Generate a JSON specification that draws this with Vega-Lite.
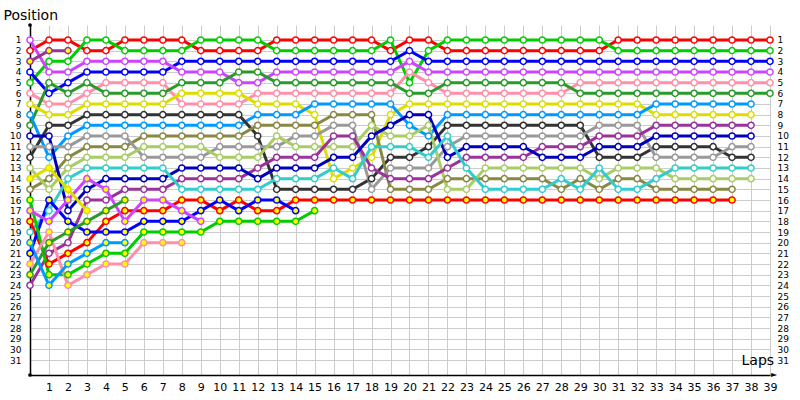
{
"$schema": "https://vega.github.io/schema/vega-lite/v6.json",
"width": 740, "height": 350,
"autosize": {"type": "none"},
"padding": {"left": 30, "top": 25, "right": 30, "bottom": 25},
"background": "white",
"config": {"view": {"stroke": null}, "font": "DejaVu Sans"},
"data": {"values": [
{"d":"R","l":0,"p":2},{"d":"R","l":1,"p":1},{"d":"R","l":2,"p":1},{"d":"R","l":3,"p":2},{"d":"R","l":4,"p":2},{"d":"R","l":5,"p":1},{"d":"R","l":6,"p":1},{"d":"R","l":7,"p":1},{"d":"R","l":8,"p":1},{"d":"R","l":9,"p":2},{"d":"R","l":10,"p":2},{"d":"R","l":11,"p":2},{"d":"R","l":12,"p":2},{"d":"R","l":13,"p":1},{"d":"R","l":14,"p":1},{"d":"R","l":15,"p":1},{"d":"R","l":16,"p":1},{"d":"R","l":17,"p":1},{"d":"R","l":18,"p":1},{"d":"R","l":19,"p":2},{"d":"R","l":20,"p":1},{"d":"R","l":21,"p":1},{"d":"R","l":22,"p":2},{"d":"R","l":23,"p":2},{"d":"R","l":24,"p":2},{"d":"R","l":25,"p":2},{"d":"R","l":26,"p":2},{"d":"R","l":27,"p":2},{"d":"R","l":28,"p":2},{"d":"R","l":29,"p":2},{"d":"R","l":30,"p":2},{"d":"R","l":31,"p":1},{"d":"R","l":32,"p":1},{"d":"R","l":33,"p":1},{"d":"R","l":34,"p":1},{"d":"R","l":35,"p":1},{"d":"R","l":36,"p":1},{"d":"R","l":37,"p":1},{"d":"R","l":38,"p":1},{"d":"R","l":39,"p":1},
{"d":"G","l":0,"p":5},{"d":"G","l":1,"p":3},{"d":"G","l":2,"p":3},{"d":"G","l":3,"p":1},{"d":"G","l":4,"p":1},{"d":"G","l":5,"p":2},{"d":"G","l":6,"p":2},{"d":"G","l":7,"p":2},{"d":"G","l":8,"p":2},{"d":"G","l":9,"p":1},{"d":"G","l":10,"p":1},{"d":"G","l":11,"p":1},{"d":"G","l":12,"p":1},{"d":"G","l":13,"p":2},{"d":"G","l":14,"p":2},{"d":"G","l":15,"p":2},{"d":"G","l":16,"p":2},{"d":"G","l":17,"p":2},{"d":"G","l":18,"p":2},{"d":"G","l":19,"p":1},{"d":"G","l":20,"p":5},{"d":"G","l":21,"p":2},{"d":"G","l":22,"p":1},{"d":"G","l":23,"p":1},{"d":"G","l":24,"p":1},{"d":"G","l":25,"p":1},{"d":"G","l":26,"p":1},{"d":"G","l":27,"p":1},{"d":"G","l":28,"p":1},{"d":"G","l":29,"p":1},{"d":"G","l":30,"p":1},{"d":"G","l":31,"p":2},{"d":"G","l":32,"p":2},{"d":"G","l":33,"p":2},{"d":"G","l":34,"p":2},{"d":"G","l":35,"p":2},{"d":"G","l":36,"p":2},{"d":"G","l":37,"p":2},{"d":"G","l":38,"p":2},{"d":"G","l":39,"p":2},
{"d":"B","l":0,"p":4},{"d":"B","l":1,"p":6},{"d":"B","l":2,"p":5},{"d":"B","l":3,"p":4},{"d":"B","l":4,"p":4},{"d":"B","l":5,"p":4},{"d":"B","l":6,"p":4},{"d":"B","l":7,"p":4},{"d":"B","l":8,"p":3},{"d":"B","l":9,"p":3},{"d":"B","l":10,"p":3},{"d":"B","l":11,"p":3},{"d":"B","l":12,"p":3},{"d":"B","l":13,"p":3},{"d":"B","l":14,"p":3},{"d":"B","l":15,"p":3},{"d":"B","l":16,"p":3},{"d":"B","l":17,"p":3},{"d":"B","l":18,"p":3},{"d":"B","l":19,"p":3},{"d":"B","l":20,"p":2},{"d":"B","l":21,"p":3},{"d":"B","l":22,"p":3},{"d":"B","l":23,"p":3},{"d":"B","l":24,"p":3},{"d":"B","l":25,"p":3},{"d":"B","l":26,"p":3},{"d":"B","l":27,"p":3},{"d":"B","l":28,"p":3},{"d":"B","l":29,"p":3},{"d":"B","l":30,"p":3},{"d":"B","l":31,"p":3},{"d":"B","l":32,"p":3},{"d":"B","l":33,"p":3},{"d":"B","l":34,"p":3},{"d":"B","l":35,"p":3},{"d":"B","l":36,"p":3},{"d":"B","l":37,"p":3},{"d":"B","l":38,"p":3},{"d":"B","l":39,"p":3},
{"d":"V","l":0,"p":1},{"d":"V","l":1,"p":4},{"d":"V","l":2,"p":4},{"d":"V","l":3,"p":3},{"d":"V","l":4,"p":3},{"d":"V","l":5,"p":3},{"d":"V","l":6,"p":3},{"d":"V","l":7,"p":3},{"d":"V","l":8,"p":4},{"d":"V","l":9,"p":4},{"d":"V","l":10,"p":4},{"d":"V","l":11,"p":5},{"d":"V","l":12,"p":5},{"d":"V","l":13,"p":4},{"d":"V","l":14,"p":4},{"d":"V","l":15,"p":4},{"d":"V","l":16,"p":4},{"d":"V","l":17,"p":4},{"d":"V","l":18,"p":4},{"d":"V","l":19,"p":4},{"d":"V","l":20,"p":3},{"d":"V","l":21,"p":4},{"d":"V","l":22,"p":4},{"d":"V","l":23,"p":4},{"d":"V","l":24,"p":4},{"d":"V","l":25,"p":4},{"d":"V","l":26,"p":4},{"d":"V","l":27,"p":4},{"d":"V","l":28,"p":4},{"d":"V","l":29,"p":4},{"d":"V","l":30,"p":4},{"d":"V","l":31,"p":4},{"d":"V","l":32,"p":4},{"d":"V","l":33,"p":4},{"d":"V","l":34,"p":4},{"d":"V","l":35,"p":4},{"d":"V","l":36,"p":4},{"d":"V","l":37,"p":4},{"d":"V","l":38,"p":4},{"d":"V","l":39,"p":4},
{"d":"P","l":0,"p":6},{"d":"P","l":1,"p":7},{"d":"P","l":2,"p":7},{"d":"P","l":3,"p":6},{"d":"P","l":4,"p":5},{"d":"P","l":5,"p":5},{"d":"P","l":6,"p":5},{"d":"P","l":7,"p":5},{"d":"P","l":8,"p":7},{"d":"P","l":9,"p":7},{"d":"P","l":10,"p":7},{"d":"P","l":11,"p":7},{"d":"P","l":12,"p":6},{"d":"P","l":13,"p":6},{"d":"P","l":14,"p":6},{"d":"P","l":15,"p":6},{"d":"P","l":16,"p":6},{"d":"P","l":17,"p":6},{"d":"P","l":18,"p":6},{"d":"P","l":19,"p":6},{"d":"P","l":20,"p":4},{"d":"P","l":21,"p":5},{"d":"P","l":22,"p":6},{"d":"P","l":23,"p":6},{"d":"P","l":24,"p":6},{"d":"P","l":25,"p":6},{"d":"P","l":26,"p":6},{"d":"P","l":27,"p":6},{"d":"P","l":28,"p":6},{"d":"P","l":29,"p":5},{"d":"P","l":30,"p":5},{"d":"P","l":31,"p":5},{"d":"P","l":32,"p":5},{"d":"P","l":33,"p":5},{"d":"P","l":34,"p":5},{"d":"P","l":35,"p":5},{"d":"P","l":36,"p":5},{"d":"P","l":37,"p":5},{"d":"P","l":38,"p":5},{"d":"P","l":39,"p":5},
{"d":"DG","l":0,"p":9},{"d":"DG","l":1,"p":5},{"d":"DG","l":2,"p":6},{"d":"DG","l":3,"p":5},{"d":"DG","l":4,"p":6},{"d":"DG","l":5,"p":6},{"d":"DG","l":6,"p":6},{"d":"DG","l":7,"p":6},{"d":"DG","l":8,"p":5},{"d":"DG","l":9,"p":5},{"d":"DG","l":10,"p":5},{"d":"DG","l":11,"p":4},{"d":"DG","l":12,"p":4},{"d":"DG","l":13,"p":5},{"d":"DG","l":14,"p":5},{"d":"DG","l":15,"p":5},{"d":"DG","l":16,"p":5},{"d":"DG","l":17,"p":5},{"d":"DG","l":18,"p":5},{"d":"DG","l":19,"p":5},{"d":"DG","l":20,"p":6},{"d":"DG","l":21,"p":6},{"d":"DG","l":22,"p":5},{"d":"DG","l":23,"p":5},{"d":"DG","l":24,"p":5},{"d":"DG","l":25,"p":5},{"d":"DG","l":26,"p":5},{"d":"DG","l":27,"p":5},{"d":"DG","l":28,"p":5},{"d":"DG","l":29,"p":6},{"d":"DG","l":30,"p":6},{"d":"DG","l":31,"p":6},{"d":"DG","l":32,"p":6},{"d":"DG","l":33,"p":6},{"d":"DG","l":34,"p":6},{"d":"DG","l":35,"p":6},{"d":"DG","l":36,"p":6},{"d":"DG","l":37,"p":6},{"d":"DG","l":38,"p":6},{"d":"DG","l":39,"p":6},
{"d":"Y","l":0,"p":7},{"d":"Y","l":1,"p":8},{"d":"Y","l":2,"p":8},{"d":"Y","l":3,"p":7},{"d":"Y","l":4,"p":7},{"d":"Y","l":5,"p":7},{"d":"Y","l":6,"p":7},{"d":"Y","l":7,"p":7},{"d":"Y","l":8,"p":6},{"d":"Y","l":9,"p":6},{"d":"Y","l":10,"p":6},{"d":"Y","l":11,"p":6},{"d":"Y","l":12,"p":7},{"d":"Y","l":13,"p":7},{"d":"Y","l":14,"p":7},{"d":"Y","l":15,"p":8},{"d":"Y","l":16,"p":14},{"d":"Y","l":17,"p":13},{"d":"Y","l":18,"p":12},{"d":"Y","l":19,"p":8},{"d":"Y","l":20,"p":7},{"d":"Y","l":21,"p":7},{"d":"Y","l":22,"p":7},{"d":"Y","l":23,"p":7},{"d":"Y","l":24,"p":7},{"d":"Y","l":25,"p":7},{"d":"Y","l":26,"p":7},{"d":"Y","l":27,"p":7},{"d":"Y","l":28,"p":7},{"d":"Y","l":29,"p":7},{"d":"Y","l":30,"p":7},{"d":"Y","l":31,"p":7},{"d":"Y","l":32,"p":7},{"d":"Y","l":33,"p":8},{"d":"Y","l":34,"p":8},{"d":"Y","l":35,"p":8},{"d":"Y","l":36,"p":8},{"d":"Y","l":37,"p":8},{"d":"Y","l":38,"p":8},
{"d":"A","l":0,"p":8},{"d":"A","l":1,"p":12},{"d":"A","l":2,"p":10},{"d":"A","l":3,"p":9},{"d":"A","l":4,"p":9},{"d":"A","l":5,"p":9},{"d":"A","l":6,"p":9},{"d":"A","l":7,"p":9},{"d":"A","l":8,"p":9},{"d":"A","l":9,"p":9},{"d":"A","l":10,"p":9},{"d":"A","l":11,"p":9},{"d":"A","l":12,"p":8},{"d":"A","l":13,"p":8},{"d":"A","l":14,"p":8},{"d":"A","l":15,"p":7},{"d":"A","l":16,"p":7},{"d":"A","l":17,"p":7},{"d":"A","l":18,"p":7},{"d":"A","l":19,"p":7},{"d":"A","l":20,"p":9},{"d":"A","l":21,"p":10},{"d":"A","l":22,"p":8},{"d":"A","l":23,"p":8},{"d":"A","l":24,"p":8},{"d":"A","l":25,"p":8},{"d":"A","l":26,"p":8},{"d":"A","l":27,"p":8},{"d":"A","l":28,"p":8},{"d":"A","l":29,"p":8},{"d":"A","l":30,"p":8},{"d":"A","l":31,"p":8},{"d":"A","l":32,"p":8},{"d":"A","l":33,"p":7},{"d":"A","l":34,"p":7},{"d":"A","l":35,"p":7},{"d":"A","l":36,"p":7},{"d":"A","l":37,"p":7},{"d":"A","l":38,"p":7},
{"d":"K","l":0,"p":12},{"d":"K","l":1,"p":9},{"d":"K","l":2,"p":9},{"d":"K","l":3,"p":8},{"d":"K","l":4,"p":8},{"d":"K","l":5,"p":8},{"d":"K","l":6,"p":8},{"d":"K","l":7,"p":8},{"d":"K","l":8,"p":8},{"d":"K","l":9,"p":8},{"d":"K","l":10,"p":8},{"d":"K","l":11,"p":8},{"d":"K","l":12,"p":10},{"d":"K","l":13,"p":15},{"d":"K","l":14,"p":15},{"d":"K","l":15,"p":15},{"d":"K","l":16,"p":15},{"d":"K","l":17,"p":15},{"d":"K","l":18,"p":14},{"d":"K","l":19,"p":12},{"d":"K","l":20,"p":12},{"d":"K","l":21,"p":11},{"d":"K","l":22,"p":9},{"d":"K","l":23,"p":9},{"d":"K","l":24,"p":9},{"d":"K","l":25,"p":9},{"d":"K","l":26,"p":9},{"d":"K","l":27,"p":9},{"d":"K","l":28,"p":9},{"d":"K","l":29,"p":9},{"d":"K","l":30,"p":12},{"d":"K","l":31,"p":12},{"d":"K","l":32,"p":12},{"d":"K","l":33,"p":11},{"d":"K","l":34,"p":11},{"d":"K","l":35,"p":11},{"d":"K","l":36,"p":11},{"d":"K","l":37,"p":12},{"d":"K","l":38,"p":12},
{"d":"O","l":0,"p":15},{"d":"O","l":1,"p":14},{"d":"O","l":2,"p":12},{"d":"O","l":3,"p":11},{"d":"O","l":4,"p":11},{"d":"O","l":5,"p":11},{"d":"O","l":6,"p":10},{"d":"O","l":7,"p":10},{"d":"O","l":8,"p":10},{"d":"O","l":9,"p":10},{"d":"O","l":10,"p":10},{"d":"O","l":11,"p":10},{"d":"O","l":12,"p":9},{"d":"O","l":13,"p":9},{"d":"O","l":14,"p":9},{"d":"O","l":15,"p":9},{"d":"O","l":16,"p":8},{"d":"O","l":17,"p":8},{"d":"O","l":18,"p":8},{"d":"O","l":19,"p":15},{"d":"O","l":20,"p":15},{"d":"O","l":21,"p":15},{"d":"O","l":22,"p":14},{"d":"O","l":23,"p":14},{"d":"O","l":24,"p":14},{"d":"O","l":25,"p":14},{"d":"O","l":26,"p":14},{"d":"O","l":27,"p":14},{"d":"O","l":28,"p":15},{"d":"O","l":29,"p":14},{"d":"O","l":30,"p":15},{"d":"O","l":31,"p":14},{"d":"O","l":32,"p":14},{"d":"O","l":33,"p":15},{"d":"O","l":34,"p":15},{"d":"O","l":35,"p":15},{"d":"O","l":36,"p":15},{"d":"O","l":37,"p":15},
{"d":"GR","l":0,"p":11},{"d":"GR","l":1,"p":11},{"d":"GR","l":2,"p":11},{"d":"GR","l":3,"p":10},{"d":"GR","l":4,"p":10},{"d":"GR","l":5,"p":10},{"d":"GR","l":6,"p":12},{"d":"GR","l":7,"p":12},{"d":"GR","l":8,"p":12},{"d":"GR","l":9,"p":12},{"d":"GR","l":10,"p":11},{"d":"GR","l":11,"p":11},{"d":"GR","l":12,"p":11},{"d":"GR","l":13,"p":11},{"d":"GR","l":14,"p":10},{"d":"GR","l":15,"p":10},{"d":"GR","l":16,"p":9},{"d":"GR","l":17,"p":9},{"d":"GR","l":18,"p":15},{"d":"GR","l":19,"p":13},{"d":"GR","l":20,"p":13},{"d":"GR","l":21,"p":13},{"d":"GR","l":22,"p":11},{"d":"GR","l":23,"p":10},{"d":"GR","l":24,"p":10},{"d":"GR","l":25,"p":10},{"d":"GR","l":26,"p":10},{"d":"GR","l":27,"p":10},{"d":"GR","l":28,"p":10},{"d":"GR","l":29,"p":10},{"d":"GR","l":30,"p":9},{"d":"GR","l":31,"p":9},{"d":"GR","l":32,"p":9},{"d":"GR","l":33,"p":12},{"d":"GR","l":34,"p":12},{"d":"GR","l":35,"p":12},{"d":"GR","l":36,"p":12},{"d":"GR","l":37,"p":11},{"d":"GR","l":38,"p":11},
{"d":"LG","l":0,"p":13},{"d":"LG","l":1,"p":15},{"d":"LG","l":2,"p":13},{"d":"LG","l":3,"p":12},{"d":"LG","l":4,"p":12},{"d":"LG","l":5,"p":12},{"d":"LG","l":6,"p":11},{"d":"LG","l":7,"p":11},{"d":"LG","l":8,"p":11},{"d":"LG","l":9,"p":11},{"d":"LG","l":10,"p":12},{"d":"LG","l":11,"p":12},{"d":"LG","l":12,"p":12},{"d":"LG","l":13,"p":10},{"d":"LG","l":14,"p":11},{"d":"LG","l":15,"p":11},{"d":"LG","l":16,"p":11},{"d":"LG","l":17,"p":11},{"d":"LG","l":18,"p":9},{"d":"LG","l":19,"p":10},{"d":"LG","l":20,"p":10},{"d":"LG","l":21,"p":9},{"d":"LG","l":22,"p":15},{"d":"LG","l":23,"p":15},{"d":"LG","l":24,"p":13},{"d":"LG","l":25,"p":13},{"d":"LG","l":26,"p":13},{"d":"LG","l":27,"p":13},{"d":"LG","l":28,"p":13},{"d":"LG","l":29,"p":13},{"d":"LG","l":30,"p":14},{"d":"LG","l":31,"p":13},{"d":"LG","l":32,"p":13},{"d":"LG","l":33,"p":13},{"d":"LG","l":34,"p":14},{"d":"LG","l":35,"p":14},{"d":"LG","l":36,"p":14},{"d":"LG","l":37,"p":14},{"d":"LG","l":38,"p":14},
{"d":"PU","l":0,"p":24},{"d":"PU","l":1,"p":21},{"d":"PU","l":2,"p":20},{"d":"PU","l":3,"p":16},{"d":"PU","l":4,"p":16},{"d":"PU","l":5,"p":15},{"d":"PU","l":6,"p":15},{"d":"PU","l":7,"p":15},{"d":"PU","l":8,"p":14},{"d":"PU","l":9,"p":14},{"d":"PU","l":10,"p":14},{"d":"PU","l":11,"p":14},{"d":"PU","l":12,"p":13},{"d":"PU","l":13,"p":12},{"d":"PU","l":14,"p":12},{"d":"PU","l":15,"p":12},{"d":"PU","l":16,"p":10},{"d":"PU","l":17,"p":10},{"d":"PU","l":18,"p":13},{"d":"PU","l":19,"p":14},{"d":"PU","l":20,"p":14},{"d":"PU","l":21,"p":14},{"d":"PU","l":22,"p":13},{"d":"PU","l":23,"p":12},{"d":"PU","l":24,"p":12},{"d":"PU","l":25,"p":12},{"d":"PU","l":26,"p":12},{"d":"PU","l":27,"p":11},{"d":"PU","l":28,"p":11},{"d":"PU","l":29,"p":11},{"d":"PU","l":30,"p":10},{"d":"PU","l":31,"p":10},{"d":"PU","l":32,"p":10},{"d":"PU","l":33,"p":9},{"d":"PU","l":34,"p":9},{"d":"PU","l":35,"p":9},{"d":"PU","l":36,"p":9},{"d":"PU","l":37,"p":9},{"d":"PU","l":38,"p":9},
{"d":"N","l":0,"p":10},{"d":"N","l":1,"p":10},{"d":"N","l":2,"p":17},{"d":"N","l":3,"p":15},{"d":"N","l":4,"p":14},{"d":"N","l":5,"p":14},{"d":"N","l":6,"p":14},{"d":"N","l":7,"p":14},{"d":"N","l":8,"p":13},{"d":"N","l":9,"p":13},{"d":"N","l":10,"p":13},{"d":"N","l":11,"p":13},{"d":"N","l":12,"p":14},{"d":"N","l":13,"p":13},{"d":"N","l":14,"p":13},{"d":"N","l":15,"p":13},{"d":"N","l":16,"p":12},{"d":"N","l":17,"p":12},{"d":"N","l":18,"p":10},{"d":"N","l":19,"p":9},{"d":"N","l":20,"p":8},{"d":"N","l":21,"p":8},{"d":"N","l":22,"p":12},{"d":"N","l":23,"p":11},{"d":"N","l":24,"p":11},{"d":"N","l":25,"p":11},{"d":"N","l":26,"p":11},{"d":"N","l":27,"p":12},{"d":"N","l":28,"p":12},{"d":"N","l":29,"p":12},{"d":"N","l":30,"p":11},{"d":"N","l":31,"p":11},{"d":"N","l":32,"p":11},{"d":"N","l":33,"p":10},{"d":"N","l":34,"p":10},{"d":"N","l":35,"p":10},{"d":"N","l":36,"p":10},{"d":"N","l":37,"p":10},{"d":"N","l":38,"p":10},
{"d":"C","l":0,"p":19},{"d":"C","l":1,"p":17},{"d":"C","l":2,"p":14},{"d":"C","l":3,"p":13},{"d":"C","l":4,"p":13},{"d":"C","l":5,"p":13},{"d":"C","l":6,"p":13},{"d":"C","l":7,"p":13},{"d":"C","l":8,"p":15},{"d":"C","l":9,"p":15},{"d":"C","l":10,"p":15},{"d":"C","l":11,"p":15},{"d":"C","l":12,"p":15},{"d":"C","l":13,"p":14},{"d":"C","l":14,"p":14},{"d":"C","l":15,"p":14},{"d":"C","l":16,"p":13},{"d":"C","l":17,"p":14},{"d":"C","l":18,"p":11},{"d":"C","l":19,"p":11},{"d":"C","l":20,"p":11},{"d":"C","l":21,"p":12},{"d":"C","l":22,"p":10},{"d":"C","l":23,"p":13},{"d":"C","l":24,"p":15},{"d":"C","l":25,"p":15},{"d":"C","l":26,"p":15},{"d":"C","l":27,"p":15},{"d":"C","l":28,"p":14},{"d":"C","l":29,"p":15},{"d":"C","l":30,"p":13},{"d":"C","l":31,"p":15},{"d":"C","l":32,"p":15},{"d":"C","l":33,"p":14},{"d":"C","l":34,"p":13},{"d":"C","l":35,"p":13},{"d":"C","l":36,"p":13},{"d":"C","l":37,"p":13},{"d":"C","l":38,"p":13},
{"d":"RY","l":0,"p":18},{"d":"RY","l":1,"p":22},{"d":"RY","l":2,"p":21},{"d":"RY","l":3,"p":20},{"d":"RY","l":4,"p":18},{"d":"RY","l":5,"p":17},{"d":"RY","l":6,"p":17},{"d":"RY","l":7,"p":17},{"d":"RY","l":8,"p":16},{"d":"RY","l":9,"p":16},{"d":"RY","l":10,"p":17},{"d":"RY","l":11,"p":16},{"d":"RY","l":12,"p":17},{"d":"RY","l":13,"p":17},{"d":"RY","l":14,"p":16},{"d":"RY","l":15,"p":16},{"d":"RY","l":16,"p":16},{"d":"RY","l":17,"p":16},{"d":"RY","l":18,"p":16},{"d":"RY","l":19,"p":16},{"d":"RY","l":20,"p":16},{"d":"RY","l":21,"p":16},{"d":"RY","l":22,"p":16},{"d":"RY","l":23,"p":16},{"d":"RY","l":24,"p":16},{"d":"RY","l":25,"p":16},{"d":"RY","l":26,"p":16},{"d":"RY","l":27,"p":16},{"d":"RY","l":28,"p":16},{"d":"RY","l":29,"p":16},{"d":"RY","l":30,"p":16},{"d":"RY","l":31,"p":16},{"d":"RY","l":32,"p":16},{"d":"RY","l":33,"p":16},{"d":"RY","l":34,"p":16},{"d":"RY","l":35,"p":16},{"d":"RY","l":36,"p":16},{"d":"RY","l":37,"p":16},
{"d":"BY","l":0,"p":21},{"d":"BY","l":1,"p":16},{"d":"BY","l":2,"p":18},{"d":"BY","l":3,"p":19},{"d":"BY","l":4,"p":19},{"d":"BY","l":5,"p":19},{"d":"BY","l":6,"p":18},{"d":"BY","l":7,"p":18},{"d":"BY","l":8,"p":18},{"d":"BY","l":9,"p":17},{"d":"BY","l":10,"p":16},{"d":"BY","l":11,"p":17},{"d":"BY","l":12,"p":16},{"d":"BY","l":13,"p":16},{"d":"BY","l":14,"p":17},
{"d":"GY","l":0,"p":16},{"d":"GY","l":1,"p":23},{"d":"GY","l":2,"p":23},{"d":"GY","l":3,"p":22},{"d":"GY","l":4,"p":21},{"d":"GY","l":5,"p":21},{"d":"GY","l":6,"p":19},{"d":"GY","l":7,"p":19},{"d":"GY","l":8,"p":19},{"d":"GY","l":9,"p":19},{"d":"GY","l":10,"p":18},{"d":"GY","l":11,"p":18},{"d":"GY","l":12,"p":18},{"d":"GY","l":13,"p":18},{"d":"GY","l":14,"p":18},{"d":"GY","l":15,"p":17},
{"d":"VY","l":0,"p":17},{"d":"VY","l":1,"p":18},{"d":"VY","l":2,"p":16},{"d":"VY","l":3,"p":14},{"d":"VY","l":4,"p":15},{"d":"VY","l":5,"p":18},{"d":"VY","l":6,"p":16},{"d":"VY","l":7,"p":16},{"d":"VY","l":8,"p":17},{"d":"VY","l":9,"p":18},
{"d":"PY","l":0,"p":22},{"d":"PY","l":1,"p":19},{"d":"PY","l":2,"p":24},{"d":"PY","l":3,"p":23},{"d":"PY","l":4,"p":22},{"d":"PY","l":5,"p":22},{"d":"PY","l":6,"p":20},{"d":"PY","l":7,"p":20},{"d":"PY","l":8,"p":20},
{"d":"DGY","l":0,"p":23},{"d":"DGY","l":1,"p":20},{"d":"DGY","l":2,"p":19},{"d":"DGY","l":3,"p":18},{"d":"DGY","l":4,"p":17},{"d":"DGY","l":5,"p":16},
{"d":"AY","l":0,"p":20},{"d":"AY","l":1,"p":24},{"d":"AY","l":2,"p":22},{"d":"AY","l":3,"p":21},{"d":"AY","l":4,"p":20},{"d":"AY","l":5,"p":20},
{"d":"YY","l":0,"p":14},{"d":"YY","l":1,"p":13},{"d":"YY","l":2,"p":15},{"d":"YY","l":3,"p":17},
{"d":"PUY","l":0,"p":3},{"d":"PUY","l":1,"p":2},{"d":"PUY","l":2,"p":2}
]},
"layer": [
{"mark": {"type": "line", "strokeWidth": 3},
 "encoding": {
  "x": {"field": "l", "type": "ordinal", "sort": null,
   "scale": {"type": "point", "domain": [0,1,2,3,4,5,6,7,8,9,10,11,12,13,14,15,16,17,18,19,20,21,22,23,24,25,26,27,28,29,30,31,32,33,34,35,36,37,38,39], "padding": 0},
   "axis": {"values": [1,2,3,4,5,6,7,8,9,10,11,12,13,14,15,16,17,18,19,20,21,22,23,24,25,26,27,28,29,30,31,32,33,34,35,36,37,38,39],
    "grid": true, "gridColor": "#cccccc", "gridWidth": 1, "domainColor": "#000000", "domainWidth": 1.5, "ticks": false,
    "labelAngle": 0, "labelAlign": "center", "labelFontSize": 11, "labelColor": "#000000", "labelPadding": 6, "labelDx": -9.5, "labelFlush": false, "labelOverlap": false,
    "title": "Laps", "titleX": 711, "titleY": -11, "titleAlign": "left", "titleBaseline": "alphabetic", "titleFontSize": 14, "titleFontWeight": "normal", "titleColor": "#000000"}},
  "y": {"field": "p", "type": "quantitative", "scale": {"domain": [-0.406, 32.406], "reverse": true, "nice": false, "zero": false},
   "axis": {"values": [1,2,3,4,5,6,7,8,9,10,11,12,13,14,15,16,17,18,19,20,21,22,23,24,25,26,27,28,29,30,31],
    "grid": true, "gridColor": "#cccccc", "gridWidth": 1, "domainColor": "#000000", "domainWidth": 1.5, "ticks": false,
    "labelFontSize": 9, "labelColor": "#000000", "labelPadding": 9, "labelFlush": false, "labelOverlap": false,
    "title": "Position", "titleAngle": 0, "titleX": -27, "titleY": -6, "titleAlign": "left", "titleBaseline": "alphabetic", "titleFontSize": 14, "titleFontWeight": "normal", "titleColor": "#000000"}},
  "stroke": {"field": "d", "type": "nominal", "legend": null,
   "scale": {"domain": ["R","G","B","V","P","DG","Y","A","K","O","GR","LG","PU","N","C","RY","BY","GY","VY","PY","DGY","AY","YY","PUY"],
    "range": ["#ff0000","#00cc00","#0000ff","#cc44ff","#ff8fab","#2a9a2a","#dddd00","#0099ff","#333333","#888844","#999999","#a8cc66","#993399","#0000bb","#33cccc","#ff0000","#0000ff","#00cc00","#cc44ff","#ff8fab","#2a9a2a","#0099ff","#dddd00","#993399"]}},
  "order": {"field": "l", "type": "quantitative"}
 }},
{"mark": {"type": "point", "shape": "circle", "filled": true, "size": 38, "strokeWidth": 1.5, "opacity": 1},
 "encoding": {
  "x": {"field": "l", "type": "ordinal", "sort": null,
   "scale": {"type": "point", "domain": [0,1,2,3,4,5,6,7,8,9,10,11,12,13,14,15,16,17,18,19,20,21,22,23,24,25,26,27,28,29,30,31,32,33,34,35,36,37,38,39], "padding": 0}},
  "y": {"field": "p", "type": "quantitative",
   "axis": {"orient": "right", "values": [1,2,3,4,5,6,7,8,9,10,11,12,13,14,15,16,17,18,19,20,21,22,23,24,25,26,27,28,29,30,31],
    "grid": false, "domain": false, "ticks": false, "labelFontSize": 9, "labelColor": "#000000", "labelPadding": 7, "labelFlush": false, "labelOverlap": false, "title": null}},
  "stroke": {"field": "d", "type": "nominal", "legend": null},
  "fill": {"field": "d", "type": "nominal", "legend": null,
   "scale": {"domain": ["R","G","B","V","P","DG","Y","A","K","O","GR","LG","PU","N","C","RY","BY","GY","VY","PY","DGY","AY","YY","PUY"],
    "range": ["#ffffff","#ffffff","#ffffff","#ffffff","#ffffff","#ffffff","#ffffff","#ffffff","#ffffff","#ffffff","#ffffff","#ffffff","#ffffff","#ffffff","#ffffff","#ffff00","#ffff00","#ffff00","#ffff00","#ffff00","#ffff00","#ffff00","#ffff00","#ffff00"]}}
 }},
{"data": {"values": [{}]},
 "mark": {"type": "text", "text": "►", "fontSize": 8, "dx": 4, "align": "center", "baseline": "middle", "color": "#000000"},
 "encoding": {"x": {"datum": 39, "type": "ordinal"}, "y": {"datum": 32.406, "type": "quantitative", "axis": null}}},
{"data": {"values": [{}]},
 "mark": {"type": "point", "shape": "circle", "filled": true, "size": 14, "color": "#000000", "opacity": 1},
 "encoding": {"x": {"datum": 0, "type": "ordinal"}, "y": {"datum": -0.406, "type": "quantitative", "axis": null}}},
{"data": {"values": [{}]},
 "mark": {"type": "point", "shape": "circle", "filled": true, "size": 14, "color": "#000000", "opacity": 1},
 "encoding": {"x": {"datum": 0, "type": "ordinal"}, "y": {"datum": 32.406, "type": "quantitative", "axis": null}}}
],
"resolve": {"axis": {"y": "independent"}}
}
